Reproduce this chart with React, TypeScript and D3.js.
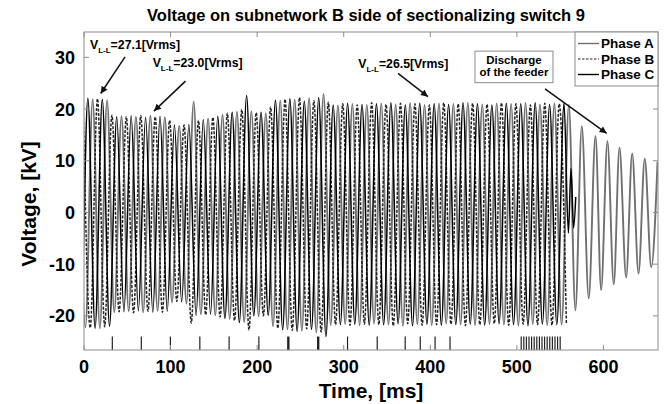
import React, { useEffect, useRef } from "react";
import * as d3 from "d3";

// 60 Hz supply, one cycle in ms
const period = 1000 / 60;

// Phase A: first peak time, then peak / trough values per cycle
const phaseAStart = -6.67;
const phaseAPeaks = [
  21.8, 21.9, 21.7, 18.6, 18.5, 18.7, 18.4, 16.8, 21.4, 18.2, 18.9, 19.5,
  19.6, 19.2, 21.6, 21.8, 22.1, 22.9, 20.7, 21.0, 20.8, 21.1, 20.9, 21.2,
  20.8, 21.1, 21.0, 21.2, 20.9, 21.1, 21.0, 21.2, 20.9, 21.1, 20.8,
];
const phaseATroughs = [
  -22.2, -22.4, -19.3, -19.1, -19.3, -19.0, -17.4, -17.6, -19.7, -19.9,
  -20.6, -21.2, -20.1, -22.0, -22.6, -22.9, -23.2, -21.8, -21.6, -21.8,
  -21.5, -21.7, -21.9, -21.6, -21.8, -21.5, -21.7, -21.8, -21.6, -21.7,
  -21.9, -21.6, -21.8, -21.7,
];

// Phase B
const phaseBStart = -1.11;
const phaseBPeaks = [
  21.9, 22.0, 18.8, 18.5, 18.7, 18.5, 17.8, 16.9, 17.8, 18.4, 19.2, 19.9,
  19.3, 20.4, 21.9, 22.2, 21.6, 21.3, 21.0, 20.8, 21.2, 20.9, 21.1, 21.0,
  20.8, 21.2, 21.0, 21.1, 20.9, 21.2, 21.0, 20.8, 21.1, 21.0,
];
const phaseBTroughs = [
  -22.3, -22.1, -19.2, -19.4, -19.1, -19.3, -17.2, -21.4, -19.8, -20.2,
  -20.9, -22.7, -20.0, -22.4, -22.8, -22.5, -23.1, -21.7, -21.8, -21.6,
  -21.7, -21.9, -21.5, -21.8, -21.7, -21.6, -21.9, -21.7, -21.5, -21.8,
  -21.6, -21.7, -21.8, -21.6,
];

// Phase C
const phaseCStart = -12.2;
const phaseCPeaks = [
  21.8, 22.1, 21.9, 18.5, 18.7, 18.4, 18.6, 16.9, 17.0, 18.0, 18.6, 19.4,
  22.6, 19.4, 21.7, 22.0, 21.5, 22.2, 20.8, 21.1, 20.9, 21.0, 21.2, 20.8,
  21.1, 21.0, 20.9, 21.2, 21.0, 20.8, 21.1, 21.0, 21.2, 20.9, 21.1,
];
const phaseCTroughs = [
  -22.2, -22.4, -22.0, -19.2, -19.0, -19.3, -19.1, -17.3, -19.9, -19.7,
  -20.5, -21.3, -20.0, -19.9, -22.7, -23.0, -22.6, -24.0, -21.7, -21.6,
  -21.8, -21.7, -21.5, -21.9, -21.6, -21.8, -21.7, -21.6, -21.8, -21.5,
  -21.7, -21.9, -21.6, -21.7,
];
// transient of phase C when the switch opens
const phaseCTailTimes = [559.5, 562.5, 565.5, 568];
const phaseCTailValues = [-4, 8.5, -3, 3];

// discharge of the feeder (phase A after opening)
const dischargeTimes = [
  567.6, 575, 583, 590.8, 597.3, 604.6, 611.9, 618.5, 626.2, 633.2, 640.5,
  647.7, 655.2, 662.5,
];
const dischargeValues = [
  -18.9, 16.7, -16.6, 14.8, -15.0, 13.8, -13.9, 12.5, -12.6, 11.4, -11.8,
  10.4, -10.6, 9.8,
];

// event markers along the bottom
const markerTimes = [
  32.7, 66.2, 99.8, 133.8, 167.6, 202, 236, 270.5, 304.4, 338.7, 371, 388.4,
  405.5, 422.8, 505, 508, 511, 514, 517, 520, 523, 526, 529, 532, 535, 538,
  541, 544, 547, 550,
];
const heavyMarkers = [236, 270.5];

const xTicks = [0, 100, 200, 300, 400, 500, 600];
const yTicks = [-20, -10, 0, 10, 20, 30];

const font = "'Liberation Sans', Arial, Helvetica, sans-serif";

type Pt = { t: number; v: number };

function cyclePoints(start: number, peaks: number[], troughs: number[]): Pt[] {
  const pts = [
    ...peaks.map((v, i) => ({ t: start + i * period, v })),
    ...troughs.map((v, i) => ({ t: start + (i + 0.5) * period, v })),
  ];
  return d3.sort(pts, (d) => d.t);
}

function App() {
  const svgRef = useRef<SVGSVGElement>(null);
  const width = 669;
  const height = 404;
  const margin = { top: 32, right: 11, bottom: 54, left: 84 };

  useEffect(() => {
    const svg = d3.select(svgRef.current);
    svg.selectAll("*").remove();

    const x = d3
      .scaleLinear()
      .domain([0, 663])
      .range([margin.left, width - margin.right]);
    const y = d3
      .scaleLinear()
      .domain([-26.6, 34.9])
      .range([height - margin.bottom, margin.top]);

    const defs = svg.append("defs");
    defs
      .append("clipPath")
      .attr("id", "plot-clip")
      .append("rect")
      .attr("x", x.range()[0])
      .attr("y", y.range()[1])
      .attr("width", x.range()[1] - x.range()[0])
      .attr("height", y.range()[0] - y.range()[1]);
    defs
      .append("marker")
      .attr("id", "arrow")
      .attr("viewBox", "0 0 10 10")
      .attr("refX", 10)
      .attr("refY", 5)
      .attr("markerWidth", 9)
      .attr("markerHeight", 7)
      .attr("markerUnits", "userSpaceOnUse")
      .attr("orient", "auto")
      .append("path")
      .attr("d", "M0,0 L10,5 L0,10 z")
      .attr("fill", "#111");

    // title
    svg
      .append("text")
      .attr("x", 366)
      .attr("y", 21)
      .attr("text-anchor", "middle")
      .style("font-family", font)
      .style("font-size", "16.5px")
      .style("font-weight", "bold")
      .text("Voltage on subnetwork B side of sectionalizing switch 9");

    const line = d3
      .line<Pt>()
      .x((d) => x(d.t))
      .y((d) => y(d.v))
      .curve(d3.curveMonotoneX);

    const phaseA = cyclePoints(phaseAStart, phaseAPeaks, phaseATroughs).concat(
      dischargeTimes.map((t, i) => ({ t, v: dischargeValues[i] }))
    );
    const phaseB = cyclePoints(phaseBStart, phaseBPeaks, phaseBTroughs);
    const phaseC = cyclePoints(phaseCStart, phaseCPeaks, phaseCTroughs).concat(
      phaseCTailTimes.map((t, i) => ({ t, v: phaseCTailValues[i] }))
    );

    const plot = svg.append("g").attr("clip-path", "url(#plot-clip)");

    plot
      .append("path")
      .attr("d", line(phaseA))
      .attr("fill", "none")
      .attr("stroke", "#707070")
      .attr("stroke-width", 1.9);
    plot
      .append("path")
      .attr("d", line(phaseB))
      .attr("fill", "none")
      .attr("stroke", "#222")
      .attr("stroke-width", 1.5)
      .attr("stroke-dasharray", "3,1.5");
    plot
      .append("path")
      .attr("d", line(phaseC))
      .attr("fill", "none")
      .attr("stroke", "#000")
      .attr("stroke-width", 1.5);

    // event markers
    plot
      .selectAll(".marker")
      .data(markerTimes)
      .enter()
      .append("line")
      .attr("x1", (d) => x(d))
      .attr("x2", (d) => x(d))
      .attr("y1", y(-24.0))
      .attr("y2", y(-26.6))
      .attr("stroke", "#222")
      .attr("stroke-width", (d) => (heavyMarkers.includes(d) ? 2.4 : 1.2));

    // frame and inner ticks
    const [x0, x1] = x.range();
    const [y0, y1] = y.range();
    const axisColor = "#8c8c8c";
    svg
      .append("rect")
      .attr("x", x0)
      .attr("y", y1)
      .attr("width", x1 - x0)
      .attr("height", y0 - y1)
      .attr("fill", "none")
      .attr("stroke", axisColor)
      .attr("stroke-width", 1);

    const tickLen = 5;
    xTicks.forEach((t) => {
      svg
        .append("line")
        .attr("x1", x(t))
        .attr("x2", x(t))
        .attr("y1", y0)
        .attr("y2", y0 - tickLen)
        .attr("stroke", axisColor);
      svg
        .append("line")
        .attr("x1", x(t))
        .attr("x2", x(t))
        .attr("y1", y1)
        .attr("y2", y1 + tickLen)
        .attr("stroke", axisColor);
      svg
        .append("text")
        .attr("x", x(t))
        .attr("y", 373)
        .attr("text-anchor", "middle")
        .style("font-family", font)
        .style("font-size", "18px")
        .style("font-weight", "bold")
        .text(t);
    });
    yTicks.forEach((v) => {
      svg
        .append("line")
        .attr("x1", x0)
        .attr("x2", x0 + tickLen)
        .attr("y1", y(v))
        .attr("y2", y(v))
        .attr("stroke", axisColor);
      svg
        .append("line")
        .attr("x1", x1)
        .attr("x2", x1 - tickLen)
        .attr("y1", y(v))
        .attr("y2", y(v))
        .attr("stroke", axisColor);
      svg
        .append("text")
        .attr("x", 75)
        .attr("y", y(v))
        .attr("dy", "0.36em")
        .attr("text-anchor", "end")
        .style("font-family", font)
        .style("font-size", "18px")
        .style("font-weight", "bold")
        .text(v);
    });

    // axis titles
    svg
      .append("text")
      .attr("x", (x0 + x1) / 2)
      .attr("y", 398)
      .attr("text-anchor", "middle")
      .style("font-family", font)
      .style("font-size", "21px")
      .style("font-weight", "bold")
      .text("Time, [ms]");
    svg
      .append("text")
      .attr("transform", `translate(36, 204) rotate(-90)`)
      .attr("text-anchor", "middle")
      .style("font-family", font)
      .style("font-size", "21px")
      .style("font-weight", "bold")
      .text("Voltage, [kV]");

    // RMS annotations
    const rmsNotes = [
      { t: 6.9, v: 31.7, value: "27.1", from: [47.4, 30.1], to: [19.3, 23.0] },
      { t: 79.3, v: 28.1, value: "23.0", from: [117.2, 25.4], to: [80.8, 19.6] },
      { t: 316.8, v: 27.9, value: "26.5", from: [362.7, 26.9], to: [397.3, 22.4] },
    ];
    rmsNotes.forEach((n) => {
      const txt = svg
        .append("text")
        .attr("x", x(n.t))
        .attr("y", y(n.v))
        .style("font-family", font)
        .style("font-size", "12.3px")
        .style("font-weight", "bold");
      txt.append("tspan").text("V");
      txt
        .append("tspan")
        .attr("dy", 4)
        .style("font-size", "8px")
        .text("L-L");
      txt.append("tspan").attr("dy", -4).text(`=${n.value}[Vrms]`);
      svg
        .append("line")
        .attr("x1", x(n.from[0]))
        .attr("y1", y(n.from[1]))
        .attr("x2", x(n.to[0]))
        .attr("y2", y(n.to[1]))
        .attr("stroke", "#111")
        .attr("stroke-width", 1.5)
        .attr("marker-end", "url(#arrow)");
    });

    // discharge note
    svg
      .append("rect")
      .attr("x", x(451.6))
      .attr("y", y(31.2))
      .attr("width", x(541.7) - x(451.6))
      .attr("height", y(25.1) - y(31.2))
      .attr("fill", "white")
      .attr("stroke", axisColor);
    ["Discharge", "of the feeder"].forEach((s, i) => {
      svg
        .append("text")
        .attr("x", x(496.6))
        .attr("y", y(28.7 - i * 2.35))
        .attr("text-anchor", "middle")
        .style("font-family", font)
        .style("font-size", "11.5px")
        .style("font-weight", "bold")
        .text(s);
    });
    svg
      .append("line")
      .attr("x1", x(532.5))
      .attr("y1", y(23.9))
      .attr("x2", x(603.7))
      .attr("y2", y(15.3))
      .attr("stroke", "#111")
      .attr("stroke-width", 1.5)
      .attr("marker-end", "url(#arrow)");

    // legend
    const legend = svg.append("g").attr("transform", `translate(${x1 - 83}, ${y1})`);
    legend
      .append("rect")
      .attr("width", 83)
      .attr("height", 54)
      .attr("fill", "white")
      .attr("stroke", axisColor);
    const legendItems = [
      { name: "Phase A", color: "#707070", dash: null, w: 1.4 },
      { name: "Phase B", color: "#222", dash: "2.5,1.5", w: 1.2 },
      { name: "Phase C", color: "#000", dash: null, w: 1.4 },
    ];
    legendItems.forEach((d, i) => {
      const yy = 11.5 + i * 15.5;
      legend
        .append("line")
        .attr("x1", 3)
        .attr("x2", 24)
        .attr("y1", yy)
        .attr("y2", yy)
        .attr("stroke", d.color)
        .attr("stroke-width", d.w)
        .attr("stroke-dasharray", d.dash);
      legend
        .append("text")
        .attr("x", 26)
        .attr("y", yy + 4.7)
        .style("font-family", font)
        .style("font-size", "13.5px")
        .style("font-weight", "bold")
        .text(d.name);
    });
  }, []);

  return (
    <svg
      ref={svgRef}
      width={width}
      height={height}
      style={{ position: "absolute", left: 0, top: 0, background: "white" }}
    ></svg>
  );
}

export default App;
